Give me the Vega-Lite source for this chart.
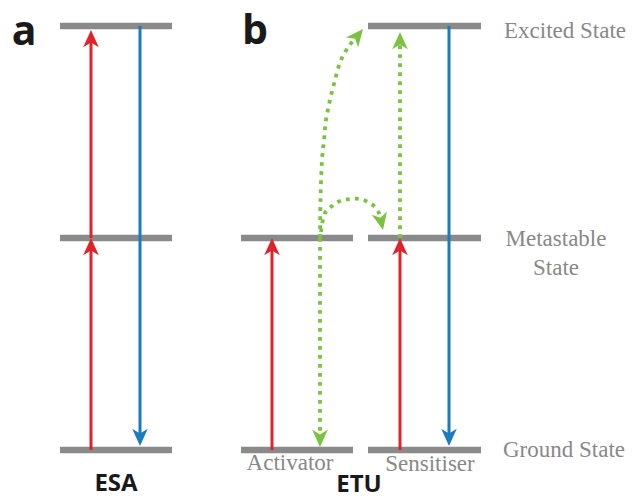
{
  "$schema": "https://vega.github.io/schema/vega-lite/v6.json",
  "width": 632,
  "height": 498,
  "padding": 0,
  "autosize": {"type": "none"},
  "background": "white",
  "config": {"view": {"stroke": null}},
  "datasets": {
    "levels": [
      {"group": "ESA", "x1": 60, "x2": 172, "e": 424},
      {"group": "ESA", "x1": 60, "x2": 172, "e": 212},
      {"group": "ESA", "x1": 60, "x2": 172, "e": 0},
      {"group": "Activator", "x1": 241, "x2": 353, "e": 212},
      {"group": "Activator", "x1": 241, "x2": 353, "e": 0},
      {"group": "Sensitiser", "x1": 368, "x2": 481, "e": 424},
      {"group": "Sensitiser", "x1": 368, "x2": 481, "e": 212},
      {"group": "Sensitiser", "x1": 368, "x2": 481, "e": 0}
    ],
    "shafts": [
      {"x": 91, "e0": 0, "e1": 201, "kind": "absorb"},
      {"x": 91, "e0": 212, "e1": 409, "kind": "absorb"},
      {"x": 140, "e0": 424, "e1": 15, "kind": "emit"},
      {"x": 272, "e0": 0, "e1": 201, "kind": "absorb"},
      {"x": 400, "e0": 0, "e1": 201, "kind": "absorb"},
      {"x": 449, "e0": 424, "e1": 15, "kind": "emit"}
    ],
    "dotted": [
      {"path": "up", "i": 0, "x": 400, "e": 212},
      {"path": "up", "i": 1, "x": 400, "e": 408},
      {"path": "down", "i": 0, "x": 320, "e": 212},
      {"path": "down", "i": 1, "x": 320, "e": 14},
      {"path": "long", "i": 0, "x": 320, "e": 212},
      {"path": "long", "i": 1, "x": 320.5, "e": 250},
      {"path": "long", "i": 2, "x": 322, "e": 290},
      {"path": "long", "i": 3, "x": 324, "e": 310},
      {"path": "long", "i": 4, "x": 326, "e": 330},
      {"path": "long", "i": 5, "x": 330, "e": 350},
      {"path": "long", "i": 6, "x": 335, "e": 370},
      {"path": "long", "i": 7, "x": 341, "e": 390},
      {"path": "long", "i": 8, "x": 349, "e": 404},
      {"path": "long", "i": 9, "x": 356, "e": 413},
      {"path": "cross", "i": 0, "x": 321, "e": 218},
      {"path": "cross", "i": 1, "x": 325, "e": 237},
      {"path": "cross", "i": 2, "x": 332, "e": 244},
      {"path": "cross", "i": 3, "x": 340, "e": 249},
      {"path": "cross", "i": 4, "x": 350, "e": 251},
      {"path": "cross", "i": 5, "x": 360, "e": 251},
      {"path": "cross", "i": 6, "x": 368, "e": 248},
      {"path": "cross", "i": 7, "x": 374, "e": 244},
      {"path": "cross", "i": 8, "x": 379, "e": 237},
      {"path": "cross", "i": 9, "x": 381, "e": 231}
    ],
    "heads": [
      {"x": 91, "e": 212, "angle": 0, "kind": "absorb"},
      {"x": 91, "e": 420, "angle": 0, "kind": "absorb"},
      {"x": 140, "e": 4, "angle": 180, "kind": "emit"},
      {"x": 272, "e": 212, "angle": 0, "kind": "absorb"},
      {"x": 400, "e": 212, "angle": 0, "kind": "absorb"},
      {"x": 449, "e": 4, "angle": 180, "kind": "emit"},
      {"x": 400, "e": 418, "angle": 0, "kind": "transfer"},
      {"x": 320, "e": 3, "angle": 180, "kind": "transfer"},
      {"x": 363, "e": 421, "angle": 39, "kind": "transfer"},
      {"x": 383, "e": 220, "angle": 168, "kind": "transfer"}
    ],
    "stateLabels": [
      {"t": "Excited State", "x": 565, "e": 412},
      {"t": "Metastable", "x": 556, "e": 204},
      {"t": "State", "x": 556, "e": 175},
      {"t": "Ground State", "x": 564, "e": -7},
      {"t": "Activator", "x": 290, "e": -20},
      {"t": "Sensitiser", "x": 430, "e": -21}
    ],
    "panelLetters": [
      {"t": "a", "x": 24, "e": 405},
      {"t": "b", "x": 255, "e": 406}
    ],
    "processNames": [
      {"t": "ESA", "x": 116, "e": -41},
      {"t": "ETU", "x": 359, "e": -42}
    ]
  },
  "layer": [
    {
      "data": {"name": "levels"},
      "mark": {"type": "rule", "strokeWidth": 6.5, "color": "#8a8a8a", "strokeCap": "butt"},
      "encoding": {
        "x": {"field": "x1", "type": "quantitative", "axis": null, "scale": {"domain": [0, 632], "nice": false, "zero": false}},
        "x2": {"field": "x2"},
        "y": {"field": "e", "type": "quantitative", "axis": null, "scale": {"domain": [-48, 450], "nice": false, "zero": false}}
      }
    },
    {
      "data": {"name": "shafts"},
      "mark": {"type": "rule", "strokeWidth": 3, "strokeCap": "butt"},
      "encoding": {
        "x": {"field": "x", "type": "quantitative", "axis": null, "scale": {"domain": [0, 632], "nice": false, "zero": false}},
        "y": {"field": "e0", "type": "quantitative", "axis": null, "scale": {"domain": [-48, 450], "nice": false, "zero": false}},
        "y2": {"field": "e1"},
        "color": {"field": "kind", "type": "nominal", "legend": null, "scale": {"domain": ["absorb", "emit", "transfer"], "range": ["#e0232b", "#1b7bbf", "#7cc241"]}}
      }
    },
    {
      "data": {"name": "dotted"},
      "mark": {"type": "line", "interpolate": "catmull-rom", "strokeDash": [3.8, 5.2], "strokeWidth": 3.8, "strokeCap": "butt", "color": "#7cc241"},
      "encoding": {
        "x": {"field": "x", "type": "quantitative", "axis": null, "scale": {"domain": [0, 632], "nice": false, "zero": false}},
        "y": {"field": "e", "type": "quantitative", "axis": null, "scale": {"domain": [-48, 450], "nice": false, "zero": false}},
        "detail": {"field": "path", "type": "nominal"},
        "order": {"field": "i", "type": "quantitative"}
      }
    },
    {
      "data": {"name": "heads"},
      "mark": {"type": "point", "shape": "M0,0L0.9,2L0,1.45L-0.9,2Z", "filled": true, "size": 300, "opacity": 1, "strokeWidth": 0},
      "encoding": {
        "x": {"field": "x", "type": "quantitative", "axis": null, "scale": {"domain": [0, 632], "nice": false, "zero": false}},
        "y": {"field": "e", "type": "quantitative", "axis": null, "scale": {"domain": [-48, 450], "nice": false, "zero": false}},
        "angle": {"field": "angle", "type": "quantitative", "scale": null},
        "color": {"field": "kind", "type": "nominal", "legend": null, "scale": {"domain": ["absorb", "emit", "transfer"], "range": ["#e0232b", "#1b7bbf", "#7cc241"]}}
      }
    },
    {
      "data": {"name": "stateLabels"},
      "mark": {"type": "text", "font": "Liberation Serif", "fontSize": 23, "color": "#888888", "align": "center", "baseline": "alphabetic"},
      "encoding": {
        "text": {"field": "t"},
        "x": {"field": "x", "type": "quantitative", "axis": null, "scale": {"domain": [0, 632], "nice": false, "zero": false}},
        "y": {"field": "e", "type": "quantitative", "axis": null, "scale": {"domain": [-48, 450], "nice": false, "zero": false}}
      }
    },
    {
      "data": {"name": "panelLetters"},
      "mark": {"type": "text", "font": "Open Sans", "fontWeight": "bold", "fontSize": 41, "color": "#1a1a1a", "align": "center", "baseline": "alphabetic"},
      "encoding": {
        "text": {"field": "t"},
        "x": {"field": "x", "type": "quantitative", "axis": null, "scale": {"domain": [0, 632], "nice": false, "zero": false}},
        "y": {"field": "e", "type": "quantitative", "axis": null, "scale": {"domain": [-48, 450], "nice": false, "zero": false}}
      }
    },
    {
      "data": {"name": "processNames"},
      "mark": {"type": "text", "font": "Open Sans", "fontWeight": "bold", "fontSize": 24, "color": "#1a1a1a", "align": "center", "baseline": "alphabetic"},
      "encoding": {
        "text": {"field": "t"},
        "x": {"field": "x", "type": "quantitative", "axis": null, "scale": {"domain": [0, 632], "nice": false, "zero": false}},
        "y": {"field": "e", "type": "quantitative", "axis": null, "scale": {"domain": [-48, 450], "nice": false, "zero": false}}
      }
    }
  ]
}
